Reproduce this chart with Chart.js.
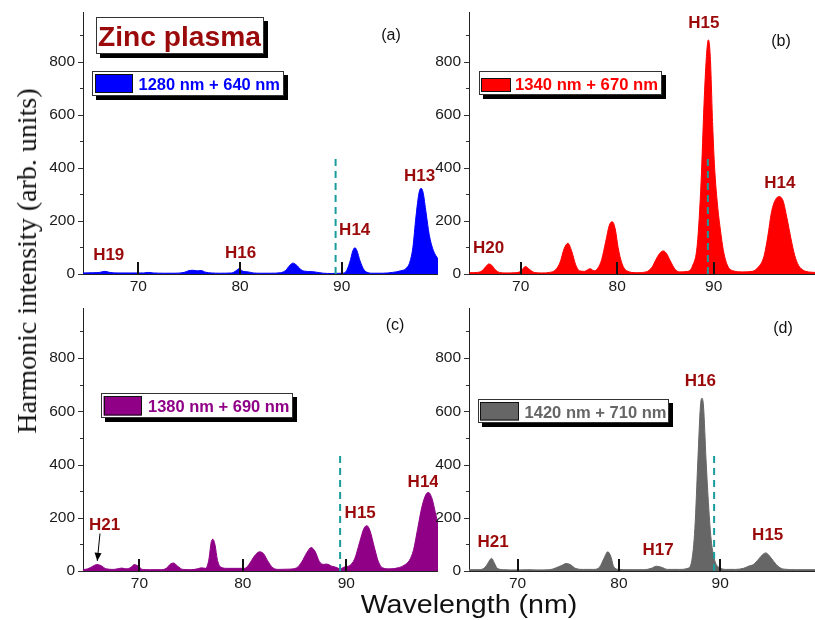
<!DOCTYPE html>
<html>
<head>
<meta charset="utf-8">
<script src="https://cdn.jsdelivr.net/npm/chart.js@4.4.1/dist/chart.umd.min.js"></script>
<style>
html,body{margin:0;padding:0;background:#fff;width:815px;height:620px;overflow:hidden;position:relative;}
canvas{position:absolute;left:0;top:0;}
#ytitle{position:absolute;left:27px;top:261px;transform:translate(-50%,-50%) rotate(-90deg);font:28px "Liberation Serif","Times New Roman",serif;line-height:1;white-space:nowrap;color:#111;}
#xtitle{position:absolute;left:469px;top:604px;transform:translate(-50%,-50%) scaleX(1.1);font:26px "Liberation Sans",Arial,sans-serif;line-height:1;white-space:nowrap;color:#111;}
</style>
</head>
<body>
<canvas id="cA"></canvas>
<canvas id="cB"></canvas>
<canvas id="cC"></canvas>
<canvas id="cD"></canvas>
<div id="ytitle">Harmonic intensity (arb. units)</div>
<div id="xtitle">Wavelength (nm)</div>
<script>
// ---------------- data ----------------
const xTickValues = [70, 80, 90];
const yTickValues = [0, 100, 200, 300, 400, 500, 600, 700, 800, 900];
const yLabelValues = [0, 200, 400, 600, 800];
const markerWavelength = 89.4;
const markerTop = 450;

// (a) 1280 nm + 640 nm
const wlA = [64.5, 65.5, 66.2, 66.7, 67.2, 68.0, 69.0, 70.5, 71.0, 71.5, 72.5, 73.5, 74.5, 75.0, 75.4, 75.8, 76.2, 76.6, 77.2, 78.0, 79.2, 79.6, 79.9, 80.3, 80.8, 81.3, 82.0, 83.0, 84.0, 84.5, 84.9, 85.2, 85.6, 86.0, 86.5, 87.0, 87.5, 88.2, 89.0, 90.0, 90.4, 90.8, 91.1, 91.3, 91.5, 91.8, 92.2, 92.6, 93.0, 94.0, 95.0, 95.8, 96.3, 96.7, 97.0, 97.3, 97.6, 97.8, 98.0, 98.3, 98.6, 99.0, 99.5];
const intA = [4, 5, 6, 10, 6, 4, 4, 4, 6, 4, 3, 3, 6, 13, 14, 12, 13, 7, 4, 3, 4, 12, 20, 10, 8, 4, 3, 3, 5, 14, 33, 41, 32, 16, 10, 9, 7, 3, 2, 3, 8, 45, 88, 99, 88, 50, 15, 5, 3, 3, 6, 12, 20, 45, 100, 215, 305, 323, 308, 230, 150, 90, 55];

// (b) 1340 nm + 670 nm
const wlB = [64.7, 65.5, 66.0, 66.4, 66.7, 67.0, 67.4, 67.8, 68.5, 69.5, 70.0, 70.5, 70.9, 71.4, 72.2, 73.0, 73.6, 74.1, 74.5, 74.9, 75.3, 75.7, 76.1, 76.6, 77.2, 77.6, 78.0, 78.4, 78.8, 79.2, 79.5, 79.8, 80.1, 80.5, 81.0, 82.0, 83.0, 83.6, 84.1, 84.5, 84.8, 85.1, 85.5, 86.0, 86.5, 87.3, 87.8, 88.3, 88.7, 89.0, 89.25, 89.45, 89.65, 89.9, 90.1, 90.4, 90.7, 91.0, 91.4, 92.0, 93.0, 94.0, 94.6, 95.2, 95.6, 96.0, 96.4, 96.8, 97.2, 97.6, 98.0, 98.4, 98.8, 99.3, 99.8, 100.5];
const intB = [5, 6, 12, 28, 38, 33, 15, 6, 4, 5, 10, 28, 18, 6, 4, 6, 15, 45, 95, 116, 85, 35, 12, 10, 20, 12, 22, 55, 120, 185, 197, 170, 100, 40, 12, 5, 8, 25, 60, 82, 87, 78, 50, 18, 8, 10, 30, 110, 350, 640, 820, 883, 820, 560, 400, 260, 166, 90, 35, 12, 8, 10, 25, 65, 140, 235, 280, 292, 275, 210, 135, 70, 32, 14, 8, 6];

// (c) 1380 nm + 690 nm
const wlC = [64.5, 65.0, 65.5, 65.9, 66.3, 66.8, 67.5, 68.0, 68.3, 68.7, 69.2, 69.5, 69.9, 70.3, 71.0, 72.0, 72.6, 73.0, 73.3, 73.7, 74.2, 75.0, 75.6, 76.0, 76.4, 76.7, 76.95, 77.1, 77.3, 77.55, 77.9, 78.5, 79.5, 80.2, 80.6, 81.1, 81.6, 82.0, 82.4, 82.9, 83.5, 84.5, 85.2, 85.7, 86.2, 86.6, 87.0, 87.4, 87.8, 88.1, 88.6, 89.0, 89.4, 89.8, 90.3, 90.8, 91.3, 91.7, 92.0, 92.3, 92.7, 93.1, 93.5, 94.2, 95.0, 95.6, 96.1, 96.5, 96.9, 97.3, 97.7, 97.95, 98.3, 98.6, 98.9];
const intC = [5, 8, 18, 24, 20, 8, 6, 9, 11, 8, 14, 24, 18, 6, 5, 5, 10, 26, 30, 18, 6, 5, 8, 12, 10, 40, 110, 119, 100, 40, 14, 10, 10, 10, 25, 55, 72, 65, 38, 12, 6, 7, 12, 35, 70, 88, 72, 35, 25, 26, 18, 14, 8, 15, 20, 45, 110, 160, 170, 150, 90, 35, 12, 8, 12, 22, 40, 80, 160, 240, 288, 295, 270, 220, 170];

// (d) 1420 nm + 710 nm
const wlD = [65.2, 66.0, 66.6, 67.0, 67.3, 67.45, 67.7, 68.0, 68.6, 70.0, 71.0, 72.0, 73.2, 73.8, 74.3, 74.8, 75.2, 75.7, 76.5, 77.5, 78.1, 78.5, 78.9, 79.2, 79.5, 80.0, 81.0, 82.5, 83.2, 83.7, 84.2, 84.8, 86.0, 86.8, 87.2, 87.5, 87.8, 88.05, 88.2, 88.35, 88.6, 88.8, 89.1, 89.5, 90.0, 90.5, 91.5, 92.3, 92.8, 93.3, 93.8, 94.2, 94.5, 94.9, 95.3, 95.8, 96.3, 97.5, 99.4];
const intD = [5, 5, 8, 25, 44, 47, 30, 10, 5, 4, 5, 4, 5, 12, 20, 28, 24, 10, 6, 6, 15, 45, 72, 55, 15, 6, 5, 5, 10, 18, 14, 6, 6, 10, 40, 160, 420, 620, 649, 620, 420, 280, 120, 35, 12, 6, 6, 10, 18, 25, 45, 62, 68, 55, 35, 15, 7, 5, 5];

// harmonic order labels: [text, wavelength, intensity]
const harmA = [["H19", 67.09, 72], ["H16", 80.05, 79], ["H14", 91.28, 165], ["H13", 97.65, 368]];
const harmB = [["H20", 66.69, 98], ["H15", 88.98, 947], ["H14", 96.85, 341]];
const harmC = [["H21", 66.63, 170], ["H15", 91.34, 217], ["H14", 97.43, 332]];
const harmD = [["H21", 67.57, 108], ["H17", 83.86, 76], ["H16", 88.04, 714], ["H15", 94.69, 133]];

// ---------------- styling / layout ----------------
const FONT = '"Liberation Sans", Arial, sans-serif';
const DARKRED = '#9b0a0a';
const TEAL = '#1a9c9c';
const Y_MAX = 988;
Chart.defaults.font.family = FONT;

const panels = [
  { id: 'cA', wl: wlA, val: intA, color: '#0000ff', xmin: 64.56, xmax: 99.47,
    target: { l: 83, t: 12, r: 438, b: 274 }, harm: harmA, letter: ['(a)', 391, 36],
    boxes: [
      { x: 96, y: 17, w: 168, h: 37, text: 'Zinc plasma', tx: 98, ty: 45.5, tw: 163, font: 'bold 27.5px ' + FONT, color: DARKRED },
      { x: 92, y: 71, w: 192, h: 25, sw: [95, 74, 38, 19], text: '1280 nm + 640 nm', tx: 138.5, ty: 90, tw: 141.5, font: 'bold 17px ' + FONT, color: '#0000ff' }
    ] },
  { id: 'cB', wl: wlB, val: intB, color: '#ff0000', xmin: 64.65, xmax: 100.5,
    target: { l: 469, t: 12, r: 815, b: 274 }, harm: harmB, letter: ['(b)', 781, 42],
    boxes: [
      { x: 479, y: 71, w: 183, h: 24, sw: [481, 78, 30, 14], text: '1340 nm + 670 nm', tx: 515, ty: 90, tw: 143, font: 'bold 17px ' + FONT, color: '#ff0000' }
    ] },
  { id: 'cC', wl: wlC, val: intC, color: '#8f0087', xmin: 64.55, xmax: 98.86,
    target: { l: 83, t: 308, r: 438, b: 571 }, harm: harmC, letter: ['(c)', 395, 326],
    arrow: [66.19, 141, 65.93, 38],
    boxes: [
      { x: 101, y: 393, w: 192, h: 25, sw: [103.5, 396, 38, 19.5], text: '1380 nm + 690 nm', tx: 148, ty: 412.3, tw: 141.5, font: 'bold 17px ' + FONT, color: '#8f0087' }
    ] },
  { id: 'cD', wl: wlD, val: intD, color: '#666666', xmin: 65.2, xmax: 99.36,
    target: { l: 469, t: 308, r: 815, b: 571 }, harm: harmD, letter: ['(d)', 783, 329],
    boxes: [
      { x: 478, y: 399, w: 191, h: 24, sw: [480, 402, 39, 18.5], text: '1420 nm + 710 nm', tx: 524.5, ty: 418.3, tw: 142, font: 'bold 17px ' + FONT, color: '#666666' }
    ] }
];

function annotPlugin(p) {
  return {
    id: 'annot_' + p.id,
    afterDatasetsDraw(chart) {
      const { ctx, chartArea: ca, scales: { x } } = chart;
      ctx.save();
      ctx.strokeStyle = '#111';
      ctx.lineWidth = 2;
      xTickValues.forEach(v => {
        const px = Math.round(x.getPixelForValue(v));
        ctx.beginPath();
        ctx.moveTo(px, ca.bottom);
        ctx.lineTo(px, ca.bottom - 12);
        ctx.stroke();
      });
      ctx.restore();
    },
    afterDraw(chart) {
      const { ctx, chartArea: ca, scales: { x, y } } = chart;
      const ox = ca.left - p.target.l, oy = ca.top - p.target.t;
      ctx.save();
      // outward y ticks
      ctx.strokeStyle = '#333';
      ctx.lineWidth = 1;
      yTickValues.forEach(v => {
        const py = Math.round(y.getPixelForValue(v)) + 0.5;
        const len = yLabelValues.includes(v) ? 5 : 3;
        ctx.beginPath();
        ctx.moveTo(ca.left - len, py);
        ctx.lineTo(ca.left, py);
        ctx.stroke();
      });
      // harmonic labels
      ctx.font = 'bold 17px ' + FONT;
      ctx.fillStyle = DARKRED;
      ctx.textAlign = 'center';
      ctx.textBaseline = 'middle';
      p.harm.forEach(([t, wx, wy]) => {
        ctx.fillText(t, x.getPixelForValue(wx), y.getPixelForValue(wy));
      });
      // arrow
      if (p.arrow) {
        const x1 = x.getPixelForValue(p.arrow[0]), y1 = y.getPixelForValue(p.arrow[1]);
        const x2 = x.getPixelForValue(p.arrow[2]), y2 = y.getPixelForValue(p.arrow[3]);
        ctx.strokeStyle = '#000';
        ctx.lineWidth = 1;
        ctx.beginPath(); ctx.moveTo(x1, y1); ctx.lineTo(x2, y2); ctx.stroke();
        const ang = Math.atan2(y2 - y1, x2 - x1);
        ctx.fillStyle = '#000';
        ctx.beginPath();
        ctx.moveTo(x2, y2);
        ctx.lineTo(x2 - 8 * Math.cos(ang) + 3.5 * Math.sin(ang), y2 - 8 * Math.sin(ang) - 3.5 * Math.cos(ang));
        ctx.lineTo(x2 - 8 * Math.cos(ang) - 3.5 * Math.sin(ang), y2 - 8 * Math.sin(ang) + 3.5 * Math.cos(ang));
        ctx.closePath();
        ctx.fill();
      }
      // panel letter
      ctx.font = '16px ' + FONT;
      ctx.fillStyle = '#111';
      ctx.fillText(p.letter[0], p.letter[1] + ox, p.letter[2] + oy);
      // legend boxes
      p.boxes.forEach(b => {
        ctx.fillStyle = '#000';
        ctx.fillRect(b.x + ox + 4, b.y + oy + 4, b.w, b.h);
        ctx.fillStyle = '#fff';
        ctx.fillRect(b.x + ox, b.y + oy, b.w, b.h);
        ctx.strokeStyle = '#333';
        ctx.lineWidth = 1;
        ctx.strokeRect(Math.round(b.x + ox) + 0.5, Math.round(b.y + oy) + 0.5, b.w - 1, b.h - 1);
        if (b.sw) {
          ctx.fillStyle = b.color;
          ctx.fillRect(b.sw[0] + ox, b.sw[1] + oy, b.sw[2], b.sw[3]);
          ctx.strokeStyle = '#111';
          ctx.strokeRect(Math.round(b.sw[0] + ox) + 0.5, Math.round(b.sw[1] + oy) + 0.5, b.sw[2] - 1, b.sw[3] - 1);
        }
        ctx.font = b.font;
        ctx.fillStyle = b.color;
        ctx.textAlign = 'left';
        ctx.textBaseline = 'alphabetic';
        const mw = ctx.measureText(b.text).width;
        const sx = b.tw ? b.tw / mw : 1;
        ctx.save();
        ctx.translate(b.tx + ox, b.ty + oy);
        ctx.scale(sx, 1);
        ctx.fillText(b.text, 0, 0);
        ctx.restore();
      });
      ctx.restore();
    }
  };
}

function makePanel(p) {
  const canvas = document.getElementById(p.id);
  const W = (p.target.r - p.target.l) + 60, H = (p.target.b - p.target.t) + 12 + 30;
  canvas.width = W; canvas.height = H;
  canvas.style.width = W + 'px'; canvas.style.height = H + 'px';
  const pts = p.wl.map((w, i) => ({ x: w, y: p.val[i] }));
  const chart = new Chart(canvas, {
    type: 'line',
    data: {
      datasets: [
        { data: [{ x: markerWavelength, y: 0 }, { x: markerWavelength, y: markerTop }],
          borderColor: TEAL, borderWidth: 2, borderDash: [7, 5], pointRadius: 0, fill: false, order: 0 },
        { data: pts, borderColor: p.color, backgroundColor: p.color, borderWidth: 1,
          pointRadius: 0, fill: 'origin', cubicInterpolationMode: 'monotone', order: 1 }
      ]
    },
    options: {
      responsive: false, maintainAspectRatio: false, animation: false, devicePixelRatio: 1, events: [],
      layout: { padding: { top: 12, right: 0, left: 0, bottom: 0 } },
      plugins: { legend: { display: false }, tooltip: { enabled: false } },
      scales: {
        x: {
          type: 'linear', min: p.xmin, max: p.xmax,
          afterBuildTicks: s => { s.ticks = xTickValues.map(v => ({ value: v })); },
          afterFit: s => { s.height = 30; s.paddingLeft = 0; s.paddingRight = 0; },
          grid: { display: false, drawTicks: false },
          border: { display: true, color: '#222', width: 1 },
          ticks: { padding: 3, color: '#1a1a1a', font: { size: 15.5 }, maxRotation: 0, autoSkip: false }
        },
        y: {
          type: 'linear', min: 0, max: Y_MAX,
          afterBuildTicks: s => { s.ticks = yTickValues.map(v => ({ value: v })); },
          afterFit: s => { s.width = 60; s.paddingTop = 0; s.paddingBottom = 0; },
          grid: { display: false, drawTicks: false },
          border: { display: true, color: '#222', width: 1 },
          ticks: { padding: 8, color: '#1a1a1a', font: { size: 15.5 }, autoSkip: false,
            callback: v => (yLabelValues.includes(v) ? String(v) : '') }
        }
      }
    },
    plugins: [annotPlugin(p)]
  });
  let ca = chart.chartArea;
  const newW = Math.round((p.target.r - p.target.l) + ca.left + (chart.width - ca.right));
  const newH = Math.round((p.target.b - p.target.t) + ca.top + (chart.height - ca.bottom));
  if (newW !== chart.width || newH !== chart.height) chart.resize(newW, newH);
  ca = chart.chartArea;
  canvas.style.left = Math.round(p.target.l - ca.left) + 'px';
  canvas.style.top = Math.round(p.target.t - ca.top) + 'px';
  return chart;
}

panels.forEach(makePanel);
</script>
</body>
</html>
